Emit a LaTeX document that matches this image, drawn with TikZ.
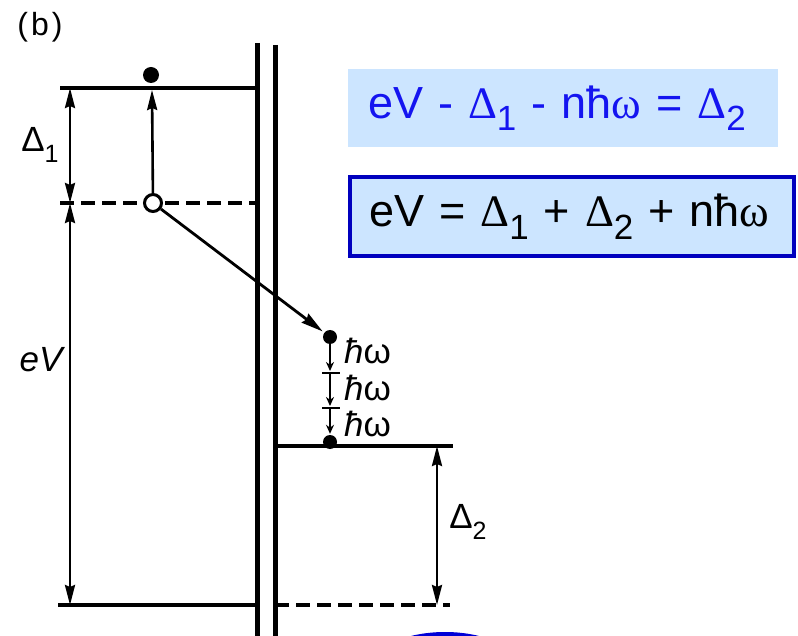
\documentclass[tikz,border=0pt]{standalone}
\usepackage{fontspec}
\setmainfont{Liberation Sans}
\newfontfamily\serifgr{Liberation Serif}
\usetikzlibrary{arrows.meta}
\definecolor{boxfill}{RGB}{204,229,255}
\definecolor{eqblue}{RGB}{20,20,240}
\definecolor{frameblue}{RGB}{0,0,190}
\definecolor{ovalblue}{RGB}{0,0,215}
\newcommand\fs[1]{\fontsize{#1}{#1}\selectfont}
\newcommand\lowsub[1]{\raisebox{-0.28em}{\fontsize{35}{35}\selectfont #1}}
\newcommand\labsub[1]{\raisebox{-0.3em}{\fontsize{25}{25}\selectfont #1}}
\tikzset{
  levelline/.style={line width=4.5pt},
  dashlevel/.style={line width=3.5pt, dash pattern=on 14pt off 7pt},
  barrier/.style={line width=5pt},
  bighead/.tip={Stealth[length=20pt,width=10pt,inset=2pt]},
  dimarrow/.style={line width=2.6pt, bighead-bighead},
  phonon/.style={line width=2.4pt, -{Stealth[length=9pt,width=8pt]}},
  dotf/.style={circle, fill=black, inner sep=0pt},
  lab/.style={inner sep=0pt},
  eqbox/.style={fill=boxfill, inner ysep=0pt, inner xsep=20pt, align=left, font=\fs{45}}
}
\begin{document}
\begin{tikzpicture}[x=1pt,y=-1pt]
\useasboundingbox (0,0) rectangle (798,636);
\clip (0,0) rectangle (798,636);
% coordinates
\coordinate (L1a) at (60,88);   \coordinate (L1b) at (257,88);
\coordinate (D1a) at (60,203);  \coordinate (D1b) at (257,203);
\coordinate (B1a) at (58,605);  \coordinate (B1b) at (257,605);
\coordinate (R1a) at (275,446); \coordinate (R1b) at (453,446);
\coordinate (R2a) at (275,605); \coordinate (R2b) at (450,605);
\coordinate (BLt) at (257,43);  \coordinate (BLb) at (257,640);
\coordinate (BRt) at (275,45);  \coordinate (BRb) at (275,640);
\coordinate (d1t) at (70,88); \coordinate (d1m) at (70,203); \coordinate (d1b) at (70,605);
\coordinate (d2t) at (437,446); \coordinate (d2b) at (437,605);
\coordinate (uptip) at (152,90);
\coordinate (tk1) at (330,373); \coordinate (tk2) at (330,408);
% barrier and levels
\draw[barrier] (BLt) -- (BLb);
\draw[barrier] (BRt) -- (BRb);
\draw[levelline] (L1a) -- (L1b);
\draw[dashlevel] (D1a) -- (D1b);
\draw[levelline] (B1a) -- (B1b);
\draw[levelline] (R1a) -- (R1b);
\draw[dashlevel] (R2a) -- (R2b);
% dimension arrows
\draw[dimarrow] (d1m) -- (d1t);
\draw[dimarrow] (d1m) -- (d1b);
\draw[dimarrow] (d2t) -- (d2b);
% particles
\node[dotf, minimum size=16pt] (etop) at (151,75) {};
\node[circle, draw, line width=3pt, fill=white, minimum size=17pt, inner sep=0pt] (hole) at (153,203) {};
\node[dotf, minimum size=14pt] (emid) at (330,337) {};
\node[dotf, minimum size=14pt] (ebot) at (330,442) {};
% transitions
\draw[line width=2.6pt, -bighead] (hole) -- (uptip);
\draw[line width=2.8pt, -{Stealth[length=22pt,width=11pt,inset=2pt]}, shorten >=2pt] (hole) -- (emid);
\draw[phonon, shorten >=2pt] (emid) -- (tk1);
\draw[phonon, shorten >=2pt] (tk1) -- (tk2);
\draw[phonon, shorten >=1pt] (tk2) -- (ebot);
\draw[line width=2.4pt] ([xshift=-8pt]tk1) -- ([xshift=10pt]tk1);
\draw[line width=2.4pt] ([xshift=-8pt]tk2) -- ([xshift=10pt]tk2);
% labels
\node[lab, font=\fs{32}] (blab) at (40,27) {(\kern3pt b\kern3pt)};
\node[lab, font=\fs{35}] (d1lab) at (40,145) {Δ\labsub{1}};
\node[lab, font=\fs{35}\itshape] (evlab) at (41,360) {eV};
\node[lab, font=\fs{35}] (d2lab) at (468,522) {Δ\labsub{2}};
\node[lab, anchor=west, font=\fs{35}] (hw1) at (344,351) {{\itshape ħ}ω};
\node[lab, anchor=west, font=\fs{35}] (hw2) at (344,388) {{\itshape ħ}ω};
\node[lab, anchor=west, font=\fs{35}] (hw3) at (344,424) {{\itshape ħ}ω};
% equations
\node[eqbox, text=eqblue, minimum height=78pt, text width=390pt] (eq1) at (563,108)
  {eV - {\serifgr Δ}\lowsub{1} - nħ{\serifgr ω} = {\serifgr Δ}\lowsub{2}};
\node[eqbox, draw=frameblue, line width=4pt, minimum height=79pt, text width=406pt, inner xsep=19pt] (eq2) at (572,216.5)
  {eV = {\serifgr Δ}\lowsub{1} + {\serifgr Δ}\lowsub{2} + nħ{\serifgr ω}};
% partly visible oval
\draw[ovalblue, line width=6pt] (445,675) ellipse [x radius=77pt, y radius=40pt];
\end{tikzpicture}
\end{document}
